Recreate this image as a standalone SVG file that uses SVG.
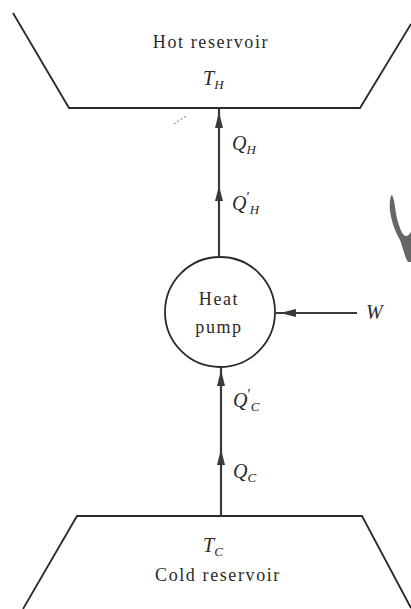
<svg xmlns="http://www.w3.org/2000/svg" width="411" height="609" viewBox="0 0 411 609">
<style>
.ln{stroke:#2a2a2a;stroke-width:1.8;fill:none}
.conn{stroke:#3a3a3a;stroke-width:2.2;fill:none}
.lbl{font-family:"Liberation Serif","DejaVu Serif",serif;font-size:18px;fill:#2a2a2a;letter-spacing:1.6px}
.it{font-family:"Liberation Serif","DejaVu Serif",serif;font-style:italic;font-size:20px;fill:#2a2a2a}
.sub{font-size:13px}
.pr{font-size:15px;font-style:normal}
</style>
<rect width="411" height="609" fill="#fff"/>
<g id="hot-reservoir">
<path class="ln" d="M13,13 L69,108 L360,108 L411,24"/>
<text class="lbl" x="211" y="48" text-anchor="middle">Hot reservoir</text>
<text class="it" x="203" y="85">T<tspan class="sub" dy="4">H</tspan></text>
</g>
<g id="heat-pump">
<circle class="ln" cx="220" cy="312" r="55"/>
<text class="lbl" x="219" y="305" text-anchor="middle">Heat</text>
<text class="lbl" x="219" y="333" text-anchor="middle">pump</text>
</g>
<g id="cold-reservoir">
<path class="ln" d="M23,609 L77,516 L362,516 L411,608"/>
<text class="it" x="203" y="552">T<tspan class="sub" dy="4">C</tspan></text>
<text class="lbl" x="218" y="581" text-anchor="middle">Cold reservoir</text>
</g>
<g id="connectors">
<line class="conn" x1="219" y1="257" x2="219" y2="109"/>
<path d="M215,128 L219,112 L223,128 Z" fill="#3a3a3a"/>
<path d="M215,201 L219,186 L223,201 Z" fill="#3a3a3a"/>
<line class="conn" x1="221" y1="516" x2="221" y2="368"/>
<path d="M217,386 L221,370 L225,386 Z" fill="#3a3a3a"/>
<path d="M217,465 L221,449 L225,465 Z" fill="#3a3a3a"/>
<line class="conn" x1="357" y1="313" x2="276" y2="313"/>
<path d="M296,309 L280,313 L296,317 Z" fill="#3a3a3a"/>
</g>
<g id="labels">
<text class="it" x="232" y="150">Q<tspan class="sub" dy="4">H</tspan></text>
<text class="it" x="232" y="210">Q<tspan class="pr" dy="-8">′</tspan><tspan class="sub" dy="12">H</tspan></text>
<text class="it" x="233" y="407">Q<tspan class="pr" dy="-8">′</tspan><tspan class="sub" dy="12">C</tspan></text>
<text class="it" x="233" y="478">Q<tspan class="sub" dy="4">C</tspan></text>
<text class="it" x="366" y="319">W</text>
</g>
<path d="M391,196 C388,205 390,222 400,240 C403,248 405,258 408,262 L411,262 L411,232 C406,240 402,236 398,222 C395,212 395,200 392,195 Z" fill="#666"/>
<path d="M174,124 L186,116" stroke="#999" stroke-width="1.2" stroke-dasharray="2,2"/>
</svg>
